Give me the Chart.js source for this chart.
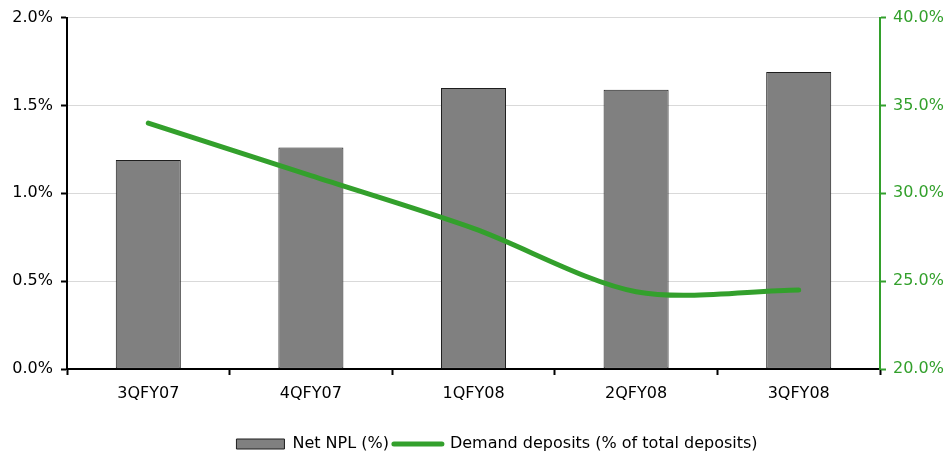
<!DOCTYPE html>
<html>
<head>
<meta charset="utf-8">
<script src="https://cdn.jsdelivr.net/npm/chart.js@4/dist/chart.umd.min.js"></script>
<style>
  html, body { margin: 0; padding: 0; background: #ffffff; }
  #wrap { width: 948px; height: 459px; }
</style>
</head>
<body>
<div id="wrap"><canvas id="c" width="948" height="459"></canvas></div>
<script>
// Quarterly asset quality and deposit mix
const quarters = ['3QFY07', '4QFY07', '1QFY08', '2QFY08', '3QFY08'];
const netNpl = [1.19, 1.26, 1.60, 1.59, 1.69];            // Net NPL, %
const demandDeposits = [34.0, 31.0, 28.0, 24.4, 24.5];     // % of total deposits
const leftTicks = [0, 0.5, 1.0, 1.5, 2.0];
const rightTicks = [20, 25, 30, 35, 40];

const GREEN = '#33a02c';
const FONT = 'DejaVu Sans, Verdana, sans-serif';
const FS = 16;

const chart = new Chart(document.getElementById('c'), {
  type: 'bar',
  data: {
    labels: quarters,
    datasets: [
      {
        type: 'line',
        label: 'Demand deposits (% of total deposits)',
        data: demandDeposits,
        yAxisID: 'y1',
        borderColor: GREEN,
        backgroundColor: GREEN,
        borderWidth: 5,
        borderCapStyle: 'round',
        pointRadius: 0,
        pointHoverRadius: 0,
        tension: 0.3,
        fill: false
      },
      {
        type: 'bar',
        label: 'Net NPL (%)',
        data: netNpl,
        yAxisID: 'y',
        backgroundColor: '#808080',
        borderColor: '#1e1e1e',
        borderWidth: 1,
        borderSkipped: false,
        barPercentage: 0.4,
        categoryPercentage: 1.0
      }
    ]
  },
  options: {
    responsive: false,
    animation: false,
    events: [],
    // the layout box reaches past the right edge so the legend row sits right of centre
    layout: { padding: { top: 15, left: 0, right: -46, bottom: -3 } },
    plugins: {
      tooltip: { enabled: false },
      legend: {
        position: 'bottom',
        labels: {
          font: { family: FONT, size: FS },
          color: '#000000',
          usePointStyle: true,
          pointStyleWidth: 48,
          boxHeight: 10,
          padding: 5,
          sort: (a, b) => b.datasetIndex - a.datasetIndex,
          generateLabels: (c) => {
            const items = Chart.defaults.plugins.legend.labels.generateLabels(c);
            items.forEach(it => {
              if (it.datasetIndex === 0) {
                it.pointStyle = 'line';
                it.lineWidth = 5;
                it.strokeStyle = GREEN;
                it.lineCap = 'round';
              } else {
                it.pointStyle = 'rect';
                it.lineWidth = 1;
                it.fillStyle = '#808080';
                it.strokeStyle = '#1e1e1e';
              }
            });
            return items;
          }
        }
      }
    },
    scales: {
      x: {
        offset: true,
        grid: {
          offset: true,
          drawOnChartArea: false,
          drawTicks: true,
          tickLength: 6,
          tickWidth: 2,
          tickColor: '#000000'
        },
        border: { display: true, color: '#000000', width: 2 },
        ticks: { font: { family: FONT, size: FS }, color: '#000000', padding: 9 },
        afterFit: (s) => { s.height = 62; }
      },
      y: {
        position: 'left',
        min: 0,
        max: 2,
        afterBuildTicks: (s) => { s.ticks = leftTicks.map(v => ({ value: v })); },
        grid: {
          color: '#d9d9d9',
          lineWidth: 1,
          tickLength: 6,
          tickWidth: 2,
          tickColor: '#000000'
        },
        border: { display: true, color: '#000000', width: 2 },
        ticks: {
          font: { family: FONT, size: FS },
          color: '#000000',
          padding: 8,
          callback: (v) => Number(v).toFixed(1) + '%'
        },
        afterFit: (s) => { s.width = 67; }
      },
      y1: {
        position: 'right',
        min: 20,
        max: 40,
        afterBuildTicks: (s) => { s.ticks = rightTicks.map(v => ({ value: v })); },
        grid: {
          drawOnChartArea: false,
          tickLength: 6,
          tickWidth: 2,
          tickColor: GREEN
        },
        border: { display: true, color: GREEN, width: 2 },
        ticks: {
          font: { family: FONT, size: FS },
          color: GREEN,
          padding: 7,
          callback: (v) => Number(v).toFixed(1) + '%'
        },
        afterFit: (s) => { s.width = 114; }
      }
    }
  }
});
</script>
</body>
</html>
